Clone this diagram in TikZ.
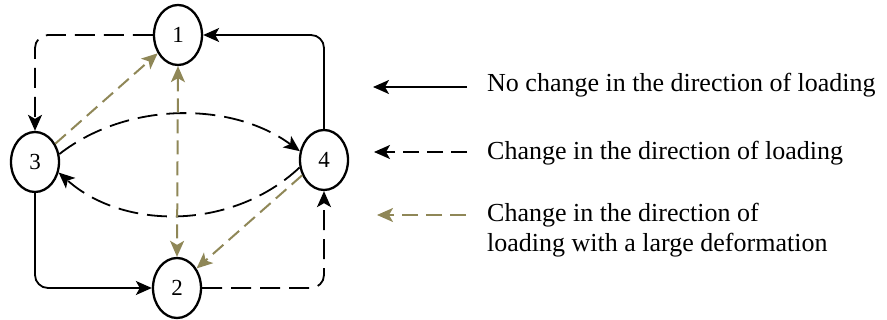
\documentclass[tikz,border=0pt]{standalone}
\usepackage{fontspec}
\setmainfont{Liberation Serif}
\usetikzlibrary{shapes.geometric,arrows.meta}
\definecolor{olivec}{RGB}{143,135,87}
\tikzset{
  state/.style={ellipse,draw,line width=2.3pt,minimum width=48pt,minimum height=60pt,
    inner sep=0pt,font=\fontsize{23}{26}\selectfont},
  tip/.style={-{Stealth[length=16pt,width=14pt,inset=4pt]}},
  keep/.style={tip,line width=1.8pt},
  turn/.style={tip,line width=1.8pt,dash pattern=on 20pt off 9pt},
  large/.style={tip,line width=2pt,olivec,dash pattern=on 14pt off 7pt},
  legtext/.style={anchor=base west,font=\fontsize{26}{30}\selectfont,inner sep=0pt}
}
\begin{document}
\begin{tikzpicture}[x=1pt,y=-1pt]
\useasboundingbox (0,0) rectangle (887,320);
% states
\node[state] (n1) at (178,35) {1};
\node[state] (n2) at (177,288) {2};
\node[state] (n3) at (35,162) {3};
\node[state] (n4) at (324,160) {4};
% outer loop
\draw[turn,rounded corners=13pt] (n1.west) -| (n3.north);
\draw[keep,rounded corners=13pt] (n4.north) |- (n1.east);
\draw[keep,rounded corners=13pt] (n3.south) |- (n2.west);
\draw[turn,rounded corners=13pt] (n2.east) -| (n4.south);
% curved transitions between 3 and 4
\draw[turn] (n3.18) .. controls +(68,-53) and +(-68,-50) .. (n4.160);
\draw[turn] (n4.197) .. controls +(-67,63) and +(65,58) .. (n3.336);
% large deformation transitions
\draw[large] (n3.42) -- (n1.222);
\draw[large,{Stealth[length=16pt,width=14pt,inset=4pt]}-{Stealth[length=16pt,width=14pt,inset=4pt]}] (n1.south) -- (n2.north);
\draw[large] (n4.215) -- (n2.45);
% legend
\coordinate (a1) at (467,87);  \coordinate (b1) at (373,87);
\coordinate (a2) at (467,152); \coordinate (b2) at (374,152);
\coordinate (a3) at (466,215); \coordinate (b3) at (377,215);
\draw[keep] (a1) -- (b1);
\draw[tip,line width=1.8pt,dash pattern=on 16pt off 8pt] (a2) -- (b2);
\draw[tip,line width=2pt,olivec,dash pattern=on 16pt off 8pt] (a3) -- (b3);
\node[legtext] (t1) at (487,92) {No change in the direction of loading};
\node[legtext] (t2) at (487,160) {Change in the direction of loading};
\node[legtext] (t3) at (487,222) {Change in the direction of};
\node[legtext] (t4) at (487,252) {loading with a large deformation};
\end{tikzpicture}
\end{document}
